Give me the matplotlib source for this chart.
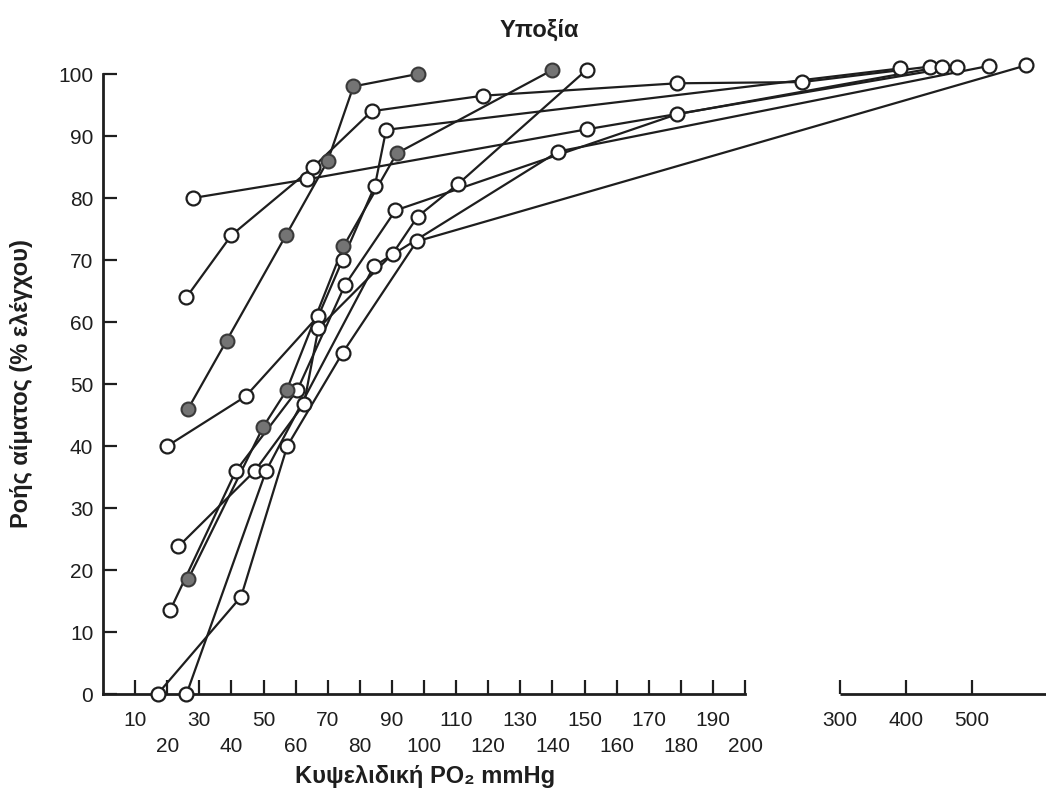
import numpy as np
import matplotlib
matplotlib.use("Agg")
import matplotlib.pyplot as plt

plt.rcParams['font.family'] = ['Liberation Sans Narrow', 'Liberation Sans', 'DejaVu Sans']

# each animal: alveolar PO2 (mmHg) and blood flow (% of control)
filled_a_x = [26.5, 38.5, 57, 70, 78, 98]
filled_a_y = [46, 57, 74, 86, 98, 100]
filled_b_x = [26.6, 49.9, 57.2, 74.9, 91.5, 139.8]
filled_b_y = [18.6, 43.1, 49, 72.2, 87.2, 100.6]

open_c_x = [28, 63.4, 150.9, 477]
open_c_y = [80, 83, 91.1, 101.2]
open_d_x = [26, 40, 65.5, 83.7, 118.3, 178.7, 260, 436]
open_d_y = [64, 74, 85, 94, 96.5, 98.5, 98.7, 101.2]
open_e_x = [20, 44.4, 67.1, 74.6, 84.7, 88.2, 391]
open_e_y = [40, 48, 61, 70, 82, 91, 100.9]
open_f_x = [21, 41.4, 60.5, 75.4, 91.1, 178.7, 454]
open_f_y = [13.6, 36, 49, 66, 78, 93.5, 101.2]
open_g_x = [23.5, 47.3, 62.6, 67.1, 90.2, 98, 110.7, 150.7]
open_g_y = [23.8, 36, 46.8, 59, 71, 77, 82.3, 100.7]
open_h_x = [17, 43, 57.4, 74.6, 97.7, 582]
open_h_y = [0, 15.7, 40, 55, 73, 101.4]
open_i_x = [26, 50.8, 84.4, 141.8, 525]
open_i_y = [0, 36, 69, 87.5, 101.3]

filled_series = [(filled_a_x, filled_a_y), (filled_b_x, filled_b_y)]
open_series = [(open_c_x, open_c_y), (open_d_x, open_d_y), (open_e_x, open_e_y),
               (open_f_x, open_f_y), (open_g_x, open_g_y), (open_h_x, open_h_y),
               (open_i_x, open_i_y)]

odd_ticks = list(range(10, 200, 20))
even_ticks = list(range(20, 201, 20))
high_ticks = [300, 400, 500]


# broken x scale: linear to 200, compressed gap, then 100 mmHg per ~20 units
def fwd(x):
    x = np.asarray(x, dtype=float)
    return np.where(x <= 200, x,
                    np.where(x <= 300, 200 + (x - 200) * 0.296,
                             229.6 + (x - 300) * 0.2056))


def inv(u):
    u = np.asarray(u, dtype=float)
    return np.where(u <= 200, u,
                    np.where(u <= 229.6, 200 + (u - 200) / 0.296,
                             300 + (u - 229.6) / 0.2056))


fig = plt.figure(figsize=(10.46, 7.96), dpi=100)
ax = fig.add_axes([0.0985, 0.1281, 0.9015, 0.7945])
ax.set_xscale('function', functions=(fwd, inv))
ax.set_xlim(0, 612)
ax.set_ylim(0, 102)

for xs, ys in filled_series + open_series:
    ax.plot(xs, ys, '-', color='#1e1e1e', lw=1.6, zorder=2)
for xs, ys in filled_series:
    ax.plot(xs, ys, 'o', ms=10, mfc='#747474', mec='#3a3a3a', mew=1.5,
            zorder=4, clip_on=False)
for xs, ys in open_series:
    ax.plot(xs, ys, 'o', ms=10, mfc='white', mec='#1e1e1e', mew=1.6,
            zorder=3, clip_on=False)

for s in ['top', 'right']:
    ax.spines[s].set_visible(False)
ax.spines['left'].set_bounds(0, 100)
ax.spines['bottom'].set_bounds(0, 200)
for s in ['left', 'bottom']:
    ax.spines[s].set_linewidth(2)
    ax.spines[s].set_color('#1e1e1e')
# second piece of the broken axis
ax.plot([300, 612], [0, 0], color='#1e1e1e', lw=2, clip_on=False, zorder=1,
        solid_capstyle='butt')

ax.set_yticks(range(0, 101, 10))
ax.tick_params(axis='y', direction='in', length=10, width=1.6, pad=7,
               labelsize=15, colors='#1e1e1e')
ax.set_xticks(odd_ticks + high_ticks)
ax.set_xticklabels([str(v) for v in odd_ticks + high_ticks])
ax.set_xticks(even_ticks, minor=True)
ax.set_xticklabels([str(v) for v in even_ticks], minor=True)
ax.tick_params(axis='x', which='both', direction='in', length=10, width=1.6,
               labelsize=15, colors='#1e1e1e')
ax.tick_params(axis='x', which='major', pad=12)
ax.tick_params(axis='x', which='minor', pad=31)

fig.text(0.516, 0.962, 'Υποξία', ha='center', va='center',
         fontsize=17, fontweight='bold', color='#1e1e1e')
fig.text(0.021, 0.518, 'Ροής αίματος (% ελέγχου)', ha='center', va='center',
         rotation=90, fontsize=17, fontweight='bold', color='#1e1e1e')
fig.text(0.406, 0.024, 'Κυψελιδική PO₂ mmHg', ha='center', va='center',
         fontsize=17, fontweight='bold', color='#1e1e1e')

fig.savefig('out.png', dpi=100)
